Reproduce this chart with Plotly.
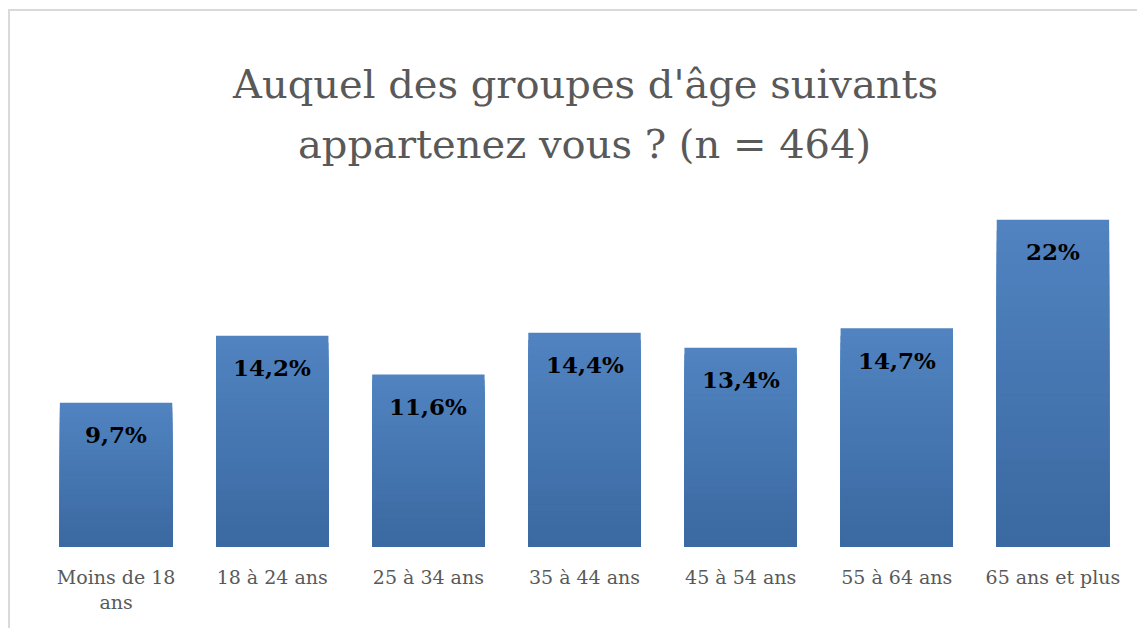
import plotly.graph_objects as go

# age groups and share of respondents (%)
categories = ["Moins de 18<br>ans", "18 à 24 ans", "25 à 34 ans", "35 à 44 ans",
              "45 à 54 ans", "55 à 64 ans", "65 ans et plus"]
values = [9.7, 14.2, 11.6, 14.4, 13.4, 14.7, 22]
labels = [f"{v:g}".replace(".", ",") + "%" for v in values]
title_lines = ["Auquel des groupes d'âge suivants", "appartenez vous ? (n = 464)"]

SERIF = "DejaVu Serif, Liberation Serif, serif"
TOP_RGB = (80, 131, 192)
BOT_RGB = (59, 105, 161)
N = 30

fig = go.Figure()

# fake a vertical gradient: overlay shorter and shorter bars, darker each time
for k in range(N):
    t = k / (N - 1)
    c = tuple(round(TOP_RGB[i] + (BOT_RGB[i] - TOP_RGB[i]) * t) for i in range(3))
    frac = 1 - k / N
    fig.add_trace(go.Bar(
        x=categories,
        y=[v * frac for v in values],
        marker=dict(color="rgb(%d,%d,%d)" % c, line=dict(width=0)),
        hoverinfo="skip" if k else "x+y",
        showlegend=False,
    ))

for cat, v, lab in zip(categories, values, labels):
    fig.add_annotation(x=cat, y=v, text="<b>" + lab + "</b>", showarrow=False,
                       yanchor="middle", yshift=-32,
                       font=dict(family=SERIF, size=23, color="#000000"))

# title drawn as two lines so the line spacing can match
for line, ypos in zip(title_lines, [1.297, 1.129]):
    fig.add_annotation(text=line, xref="paper", yref="paper", x=0.5, y=ypos,
                       xanchor="center", yanchor="middle", showarrow=False,
                       font=dict(family=SERIF, size=40, color="#595959"))

fig.update_layout(
    width=1145, height=628,
    barmode="overlay",
    bargap=0.28,
    paper_bgcolor="white",
    plot_bgcolor="white",
    margin=dict(l=30, r=22, t=182, b=89),
    xaxis=dict(showline=False, showgrid=False, ticks="", ticklabelstandoff=17,
               tickfont=dict(family=SERIF, size=19, color="#595959")),
    yaxis=dict(range=[0, 24], visible=False, showgrid=False),
    shapes=[dict(type="rect", xref="paper", yref="paper",
                 x0=-0.0265, x1=1.2, y0=-0.6, y1=1.504,
                 line=dict(color="#D9D9D9", width=2), fillcolor="rgba(0,0,0,0)",
                 layer="below")],
)

fig.write_html("out.html")
